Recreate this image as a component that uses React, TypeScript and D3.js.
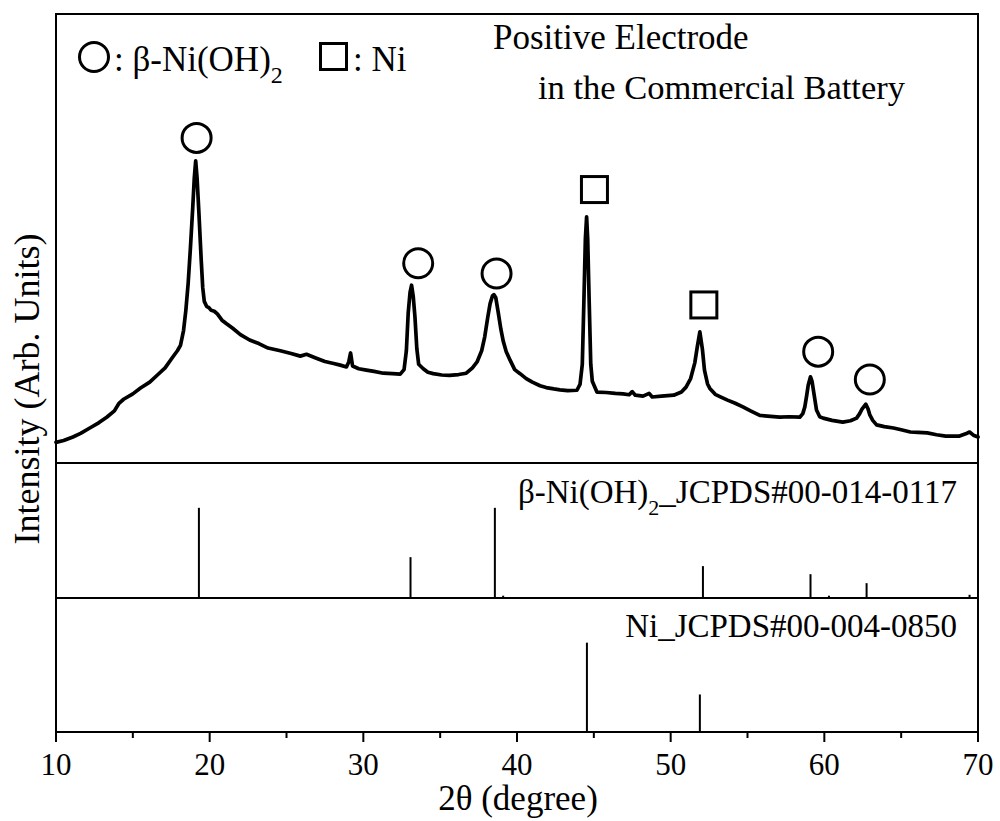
import React from "react";
import * as d3 from "d3";

// Measured pattern of the positive electrode: [2θ (deg), intensity (arb.)]
const pattern: [number, number][] = [
  [10.0, 4.6], [10.5, 5.0], [11.1, 5.8], [11.6, 6.6], [12.2, 7.8], [12.8, 9.0],
  [13.3, 10.2], [13.8, 11.6], [14.1, 13.3], [14.4, 14.2], [15.0, 15.4], [15.5, 16.7],
  [16.1, 18.0], [16.6, 19.6], [17.1, 21.2], [17.6, 23.6], [17.9, 25.0], [18.1, 26.2],
  [18.3, 29.5], [18.45, 34.0], [18.6, 40.0], [18.75, 48.0], [18.9, 57.0], [19.0, 63.5],
  [19.09, 67.3], [19.18, 63.5], [19.3, 55.7], [19.45, 45.2], [19.55, 39.0], [19.65, 36.0],
  [19.8, 34.9], [19.95, 34.6], [20.1, 34.0], [20.3, 33.8], [20.5, 33.2], [20.8, 31.8],
  [21.1, 31.0], [21.5, 30.0], [22.0, 28.6], [22.6, 27.4], [23.2, 26.6], [23.8, 25.6],
  [24.6, 25.0], [25.3, 24.4], [25.9, 23.8], [26.3, 24.2], [26.9, 23.4], [27.5, 22.6],
  [28.0, 22.2], [28.5, 21.8], [28.9, 21.4], [29.05, 22.5], [29.17, 24.5], [29.3, 21.6],
  [29.7, 21.0], [30.2, 20.7], [30.7, 20.4], [31.3, 20.0], [31.9, 19.9], [32.4, 19.8],
  [32.65, 20.8], [32.8, 25.0], [32.92, 33.4], [33.04, 38.0], [33.14, 39.6], [33.25, 37.0],
  [33.36, 32.5], [33.48, 25.5], [33.6, 22.0], [33.9, 21.0], [34.2, 20.2], [34.55, 19.9],
  [35.1, 19.6], [35.6, 19.5], [36.2, 19.7], [36.7, 20.0], [37.1, 21.2], [37.4, 22.5],
  [37.7, 25.0], [37.9, 28.1], [38.1, 32.5], [38.25, 35.5], [38.4, 37.2], [38.5, 37.5],
  [38.62, 36.8], [38.78, 33.5], [38.95, 29.8], [39.1, 27.2], [39.3, 24.8], [39.55, 22.9],
  [39.85, 20.8], [40.2, 19.9], [40.6, 18.8], [41.0, 18.0], [41.5, 17.2], [41.9, 16.8],
  [42.4, 16.5], [42.8, 16.3], [43.3, 16.1], [43.9, 16.2], [44.1, 17.5], [44.25, 22.0],
  [44.35, 35.6], [44.45, 50.0], [44.53, 54.8], [44.6, 50.0], [44.7, 35.6], [44.8, 22.0],
  [44.9, 18.2], [45.2, 15.8], [45.8, 15.7], [46.4, 15.5], [46.9, 15.4], [47.3, 15.2],
  [47.5, 15.9], [47.7, 15.1], [48.2, 14.9], [48.6, 15.5], [48.8, 14.7], [49.4, 14.9],
  [50.2, 15.1], [50.7, 15.8], [51.0, 16.9], [51.3, 18.8], [51.57, 22.3], [51.73, 25.8],
  [51.9, 29.2], [52.07, 25.2], [52.2, 20.7], [52.4, 17.6], [52.55, 16.6], [52.9, 15.3],
  [53.2, 14.8], [53.7, 14.0], [54.2, 13.3], [54.7, 12.5], [55.2, 11.6], [55.8, 10.6],
  [56.5, 10.4], [57.1, 10.2], [57.7, 10.3], [58.4, 10.2], [58.6, 11.0], [58.73, 12.5],
  [58.85, 15.0], [58.95, 17.3], [59.1, 19.2], [59.2, 18.2], [59.3, 16.0], [59.49, 11.8],
  [59.7, 10.3], [59.92, 10.0], [60.5, 9.5], [61.2, 9.1], [61.7, 9.4], [62.1, 10.0],
  [62.3, 11.0], [62.45, 12.0], [62.7, 13.1], [62.85, 12.0], [62.96, 10.7], [63.15, 9.5],
  [63.4, 8.5], [63.9, 8.1], [64.5, 7.8], [65.0, 7.4], [65.6, 6.9], [66.1, 6.8],
  [66.7, 6.7], [67.3, 6.3], [67.9, 6.0], [68.4, 6.0], [68.8, 6.0], [69.2, 6.5],
  [69.45, 6.9], [69.7, 6.2], [70.0, 5.8],
];

// Phase markers placed above the indexed reflections: [2θ, intensity]
const hydroxideMarks: [number, number][] = [
  [19.15, 72.4], [33.57, 44.5], [38.67, 42.2], [59.6, 24.8], [62.96, 18.6],
];
const nickelMarks: [number, number][] = [
  [45.04, 60.9], [52.16, 35.2],
];

// Reference stick patterns: [2θ, relative intensity %]
const hydroxideRef: [number, number][] = [
  [19.3, 100], [33.07, 45], [38.56, 100], [39.1, 2], [52.1, 35],
  [59.1, 26], [60.3, 2], [62.75, 16], [69.45, 3],
];
const nickelRef: [number, number][] = [
  [44.55, 100], [51.9, 42],
];

const majorTicks = [10, 20, 30, 40, 50, 60, 70];
const minorTicks = [15, 25, 35, 45, 55, 65];

const FONT = "'Liberation Serif', 'Times New Roman', serif";

export default function App() {
  const left = 56, right = 978, top = 14, bottom = 732;
  const div1 = 463, div2 = 598;

  const x = d3.scaleLinear().domain([10, 70]).range([left, right]);
  const yMain = d3.scaleLinear().domain([0, 100]).range([div1, top]);
  const yRef1 = d3.scaleLinear().domain([0, 150]).range([div2 - 0.5, div1]);
  const yRef2 = d3.scaleLinear().domain([0, 150]).range([bottom, div2]);

  const line = d3
    .line<[number, number]>()
    .x((d) => x(d[0]))
    .y((d) => yMain(d[1]))
    .curve(d3.curveLinear);

  return (
    <svg
      width={1000}
      height={821}
      style={{ position: "absolute", left: 0, top: 0, background: "#fff" }}
      fontFamily={FONT}
    >
      <rect x={0} y={0} width={1000} height={821} fill="#fff" />

      {/* diffraction pattern */}
      <path
        d={line(pattern) || ""}
        fill="none"
        stroke="#000"
        strokeWidth={3.7}
        strokeLinejoin="round"
        strokeLinecap="round"
      />

      {/* reference sticks */}
      {hydroxideRef.map(([t, v], i) => (
        <line key={"h" + i} x1={x(t)} x2={x(t)} y1={yRef1(0)} y2={yRef1(v)} stroke="#000" strokeWidth={2} />
      ))}
      {nickelRef.map(([t, v], i) => (
        <line key={"n" + i} x1={x(t)} x2={x(t)} y1={yRef2(0)} y2={yRef2(v)} stroke="#000" strokeWidth={2} />
      ))}

      {/* markers */}
      {hydroxideMarks.map(([t, v], i) => (
        <circle key={"c" + i} cx={x(t)} cy={yMain(v)} r={14.5} fill="none" stroke="#000" strokeWidth={3} />
      ))}
      {nickelMarks.map(([t, v], i) => (
        <rect key={"s" + i} x={x(t) - 13} y={yMain(v) - 13} width={26} height={26} fill="none" stroke="#000" strokeWidth={3} />
      ))}

      {/* frame and panel dividers */}
      <rect x={left} y={top} width={right - left} height={bottom - top} fill="none" stroke="#000" strokeWidth={2} />
      <line x1={left} x2={right} y1={div1} y2={div1} stroke="#000" strokeWidth={2} />
      <line x1={left} x2={right} y1={div2} y2={div2} stroke="#000" strokeWidth={2} />

      {/* x axis ticks */}
      {majorTicks.map((t) => (
        <g key={"M" + t}>
          <line x1={x(t)} x2={x(t)} y1={bottom} y2={bottom + 10} stroke="#000" strokeWidth={2} />
          <text x={x(t)} y={775} fontSize={31} textAnchor="middle" fill="#000">
            {t}
          </text>
        </g>
      ))}
      {minorTicks.map((t) => (
        <line key={"m" + t} x1={x(t)} x2={x(t)} y1={bottom} y2={bottom + 6} stroke="#000" strokeWidth={2} />
      ))}

      {/* axis titles */}
      <text x={518} y={810} fontSize={35} textAnchor="middle" fill="#000">
        2θ (degree)
      </text>
      <text
        transform={`translate(39, 389) rotate(-90)`}
        fontSize={36}
        textAnchor="middle"
        fill="#000"
      >
        Intensity (Arb. Units)
      </text>

      {/* legend */}
      <circle cx={94} cy={57} r={14.5} fill="none" stroke="#000" strokeWidth={3} />
      <text x={114} y={71} fontSize={35} fill="#000">
        : β-Ni(OH)
        <tspan fontSize={24} dy={12}>2</tspan>
      </text>
      <rect x={320.5} y={43.5} width={26} height={26} fill="none" stroke="#000" strokeWidth={3} />
      <text x={353} y={71} fontSize={35} fill="#000">
        : Ni
      </text>

      <text x={493} y={49} fontSize={35} fill="#000">
        Positive Electrode
      </text>
      <text x={538} y={99} fontSize={34.5} fill="#000">
        in the Commercial Battery
      </text>

      {/* reference labels */}
      <text x={957} y={503} fontSize={33} textAnchor="end" fill="#000">
        β-Ni(OH)
        <tspan fontSize={22} dy={12}>2</tspan>
        <tspan dy={-12}>_JCPDS#00-014-0117</tspan>
      </text>
      <text x={957} y={637} fontSize={33} textAnchor="end" fill="#000">
        Ni_JCPDS#00-004-0850
      </text>
    </svg>
  );
}
